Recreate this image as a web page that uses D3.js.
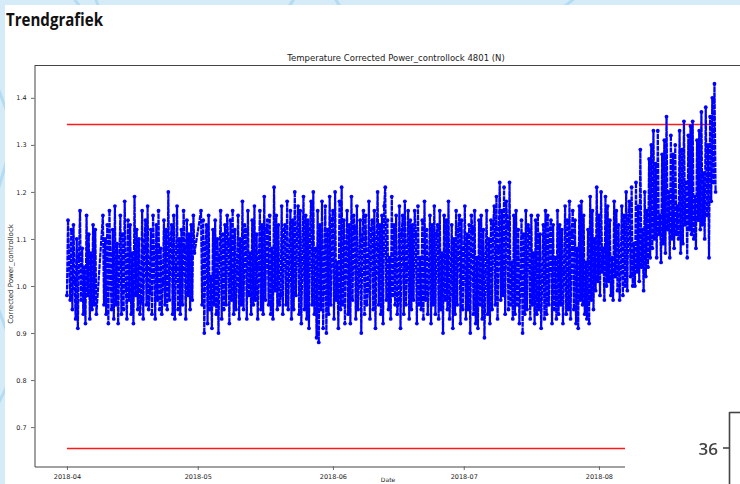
<!DOCTYPE html>
<html>
<head>
<meta charset="utf-8">
<script src="https://cdn.jsdelivr.net/npm/d3@7"></script>
<style>
  body { margin: 0; background: #fff; }
  svg { display: block; }
</style>
</head>
<body>
<svg id="chart" width="740" height="484"></svg>
<script>
// --- data ---
const pageTitle = "Trendgrafiek";
const chartTitle = "Temperature Corrected Power_controllock 4801 (N)";
const yLabel = "Corrected Power_controllock";
const xLabel = "Date";
const startDate = new Date(2018, 3, 1);   // first sample
const stepHours = 6;                       // one value every 6 hours
const limits = [0.655, 1.345];             // red control lines
const sideTickLabel = "36";                // axis of the next picture, bottom right

// null = no sample (gaps)
const values = [
  0.98,1.14,1.06,0.97, 1.12,0.95,1.13,1.01, 0.93,1.10,0.91,1.06, 1.16,0.97,1.08,0.94,
  1.04,0.92,1.15,0.98, 1.11,0.93,1.07,0.95, 1.13,0.96,1.12,0.94, null,null,null,null,
  null,1.15,0.96,1.10, 0.94,1.13,0.92,1.16, 1.02,0.95,1.12,0.93, 1.17,0.96,1.09,0.92,
  1.05,1.15,0.94,1.11, 0.95,1.18,1.00,0.93, 1.14,0.97,1.13,0.94, 1.07,0.92,1.19,0.98,
  1.12,0.95,1.10,0.94, 0.97,1.16,0.93,1.08, 1.14,0.96,1.17,0.95, 0.99,1.12,0.94,1.15,
  1.06,0.93,1.13,0.97, 1.16,0.95,1.08,0.94, 1.01,1.14,0.96,1.12, 0.95,1.20,0.97,1.09,
  1.13,0.94,1.15,0.93, 1.04,1.17,0.95,1.10, 0.94,1.12,0.96,1.16, 1.08,0.93,1.14,0.98,
  1.11,0.95,1.13,0.97, 1.15,1.07,null,null,
  null,null,null,1.16,
  0.96,1.14,0.90,1.08, 1.13,0.92,1.15,0.95, 1.02,0.91,1.12,0.96, 1.14,0.94,1.10,0.90,
  1.06,1.16,0.93,1.11, 0.95,1.13,0.96,1.15, 1.09,0.92,1.14,0.97, 1.16,0.94,1.12,0.95,
  1.03,1.15,0.93,1.10, 0.96,1.18,0.95,1.13, 1.12,0.93,1.16,0.98, 1.07,0.94,1.14,0.96,
  1.17,0.97,1.11,0.93, 1.04,1.16,0.95,1.13, 0.94,1.19,0.97,1.12, 1.14,0.96,1.15,0.94,
  1.08,0.93,1.21,0.99, 1.15,0.95,1.13,0.96, 0.98,1.17,0.94,1.12, 1.13,0.96,1.18,0.95,
  1.05,1.16,0.93,1.14, 0.95,1.20,0.98,1.11, 1.17,0.94,1.16,0.92, 1.06,1.19,0.95,1.15,
  0.93,1.14,0.91,1.12, 1.18,0.96,1.20,0.94, 1.08,0.89,1.16,0.88, 1.13,0.95,1.18,0.91,
  1.02,1.17,0.90,1.12, 0.94,1.19,0.96,1.14,
  1.16,0.93,1.20,0.97, 1.05,0.91,1.18,0.95, 1.21,0.96,1.14,0.92, 1.07,1.16,0.94,1.13,
  0.92,1.19,0.97,1.15, 1.12,0.93,1.17,0.95, 1.03,1.14,0.90,1.10, 1.16,0.94,1.15,0.96,
  0.99,1.18,0.93,1.12, 1.14,0.95,1.16,0.91, 1.08,1.20,0.96,1.13, 0.94,1.15,0.92,1.17,
  1.21,0.97,1.14,0.95, 1.06,0.93,1.19,0.98, 1.13,0.96,1.15,0.94, 0.97,1.17,0.91,1.11,
  1.15,0.94,1.18,0.96, 1.04,1.16,0.93,1.14, 0.95,1.13,0.97,1.16, 1.11,0.92,1.17,0.96,
  1.06,0.95,1.14,0.93, 1.18,0.97,1.12,0.94, 1.02,1.15,0.92,1.13, 0.96,1.17,0.94,1.11,
  1.13,0.93,1.16,0.95, 1.07,0.90,1.15,0.97, 1.14,0.95,1.18,0.93, 1.01,1.13,0.91,1.10,
  0.94,1.16,0.96,1.12, 1.15,0.92,1.14,0.95,
  1.04,1.17,0.93,1.11, 0.95,1.13,0.90,1.15, 1.12,0.94,1.16,0.92, 1.06,0.91,1.14,0.96,
  1.15,0.93,1.12,0.89, 1.03,1.16,0.94,1.10, 0.92,1.14,0.95,1.13, 1.17,0.96,1.19,0.93,
  1.08,1.22,0.97,1.16, 0.98,1.21,0.94,1.18, 1.13,0.95,1.22,0.96, 1.05,0.93,1.15,0.94,
  1.16,0.96,1.12,0.92, 1.02,1.14,0.90,1.11, 0.94,1.16,0.95,1.13, 1.12,0.93,1.15,0.96,
  1.07,0.92,1.14,0.94, 1.15,0.95,1.11,0.91, 1.01,1.13,0.93,1.16, 0.94,1.15,0.96,1.12,
  1.14,0.92,1.13,0.95, 1.06,0.93,1.16,0.94, 1.13,0.96,1.12,0.92, 1.03,1.17,0.94,1.14,
  0.95,1.18,0.93,1.11, 1.16,0.95,1.14,0.92, 1.08,0.91,1.17,0.97, 1.18,0.96,1.15,0.94,
  1.05,0.93,1.12,0.92, 1.19,0.97,1.16,0.95, 1.10,0.99,1.21,1.01,
  1.15,0.98,1.20,1.03, 1.08,0.97,1.19,1.00, 1.17,1.01,1.14,0.98, 1.06,0.97,1.18,1.02,
  1.16,0.99,1.13,0.97, 1.04,1.17,0.98,1.15, 1.00,1.20,0.99,1.14, 1.18,1.02,1.21,1.00,
  1.09,1.00,1.22,1.03, 1.17,1.01,1.29,1.04, 1.12,0.99,1.20,1.02, 1.16,1.04,1.27,1.06,
  1.30,1.08,1.33,1.10, 1.26,1.06,1.33,1.11, 1.15,1.05,1.28,1.09, 1.31,1.07,1.36,1.12,
  1.20,1.06,1.32,1.10, 1.28,1.08,1.30,1.11, 1.17,1.10,1.33,1.07, 1.29,1.09,1.35,1.13,
  1.22,1.06,1.32,1.12, 1.34,1.11,1.35,1.10, 1.19,1.08,1.31,1.14, 1.33,1.12,1.37,1.13,
  1.24,1.10,1.38,1.15, 1.30,1.06,1.36,1.18, 1.40,1.22,1.43,1.20
];

const svg = d3.select("#chart");
const W = 740, H = 484;
const plot = { left: 34.5, top: 65.5, bottom: 466.5, right: 748 };

const points = values
  .map((v, i) => ({ date: d3.timeHour.offset(startDate, i * stepHours), v }))
  .filter(d => d.v !== null);

// --- page background ---
svg.append("rect").attr("width", W).attr("height", H).attr("fill", "#fff");
const deco = svg.append("g");
deco.append("rect").attr("width", W).attr("height", 5).attr("fill", "#d6ebf8");
deco.append("rect").attr("width", 5).attr("height", H).attr("fill", "#d6ebf8");
svg.append("clipPath").attr("id", "stripClip")
  .selectAll("rect").data([[0, 0, W, 5], [0, 0, 5, H]]).join("rect")
  .attr("x", d => d[0]).attr("y", d => d[1]).attr("width", d => d[2]).attr("height", d => d[3]);
const stripes = deco.append("g").attr("clip-path", "url(#stripClip)")
  .attr("fill", "none").attr("stroke", "#b3dcf2").attr("stroke-width", 3);
[[60, -20, 90, 20], [100, 10, 92, -10], [280, 20, 300, -10], [330, -10, 345, 15],
 [560, 10, 585, -10], [-5, 80, 10, 120], [-5, 200, 10, 150], [-5, 300, 10, 340], [-5, 410, 10, 380]]
  .forEach(s => stripes.append("line").attr("x1", s[0]).attr("y1", s[1]).attr("x2", s[2]).attr("y2", s[3]));

svg.append("text")
  .attr("x", 6).attr("y", 26)
  .attr("font-family", "'Open Sans', sans-serif").attr("font-weight", 700)
  .attr("font-size", 18).attr("fill", "#111")
  .attr("textLength", 97).attr("lengthAdjust", "spacingAndGlyphs")
  .text(pageTitle);

// --- scales ---
const [t0, t1] = d3.extent(points, d => d.date);
const tPad = (t1 - t0) * 0.05;
const x = d3.scaleTime()
  .domain([new Date(+t0 - tPad), new Date(+t1 + tPad)])
  .range([plot.left, plot.right]);

const vMin = Math.min(d3.min(points, d => d.v), limits[0]);
const vMax = Math.max(d3.max(points, d => d.v), limits[1]);
const vPad = (vMax - vMin) * 0.05;
const y = d3.scaleLinear()
  .domain([vMin - vPad, vMax + vPad])
  .range([plot.bottom, plot.top]);

const font = "'DejaVu Sans', sans-serif";

// --- axes ---
const xAxis = svg.append("g")
  .attr("transform", `translate(0,${plot.bottom})`)
  .call(d3.axisBottom(x).tickValues(d3.timeMonth.range(t0, t1))
    .tickFormat(d3.timeFormat("%Y-%m")).tickSize(3.5).tickSizeOuter(0));
const yAxis = svg.append("g")
  .attr("transform", `translate(${plot.left},0)`)
  .call(d3.axisLeft(y).ticks(8).tickFormat(d3.format(".1f")).tickSize(3.5).tickSizeOuter(0));

[xAxis, yAxis].forEach(a => {
  a.select(".domain").attr("stroke", "#444").attr("stroke-width", 1);
  a.selectAll(".tick line").attr("stroke", "#444").attr("stroke-width", 0.8);
  a.selectAll(".tick text").attr("font-family", font).attr("font-size", 6.5).attr("fill", "#222");
});
xAxis.selectAll(".tick text").attr("dy", "0.95em");
yAxis.selectAll(".tick text").attr("dx", "-0.2em");

svg.append("line")
  .attr("x1", plot.left).attr("x2", W)
  .attr("y1", plot.top).attr("y2", plot.top)
  .attr("stroke", "#444").attr("stroke-width", 1);

svg.append("text")
  .attr("x", 396).attr("y", 61)
  .attr("text-anchor", "middle")
  .attr("font-family", font).attr("font-size", 8.5).attr("fill", "#222")
  .text(chartTitle);

svg.append("text")
  .attr("transform", `translate(13,${(plot.top + plot.bottom) / 2 + 8}) rotate(-90)`)
  .attr("text-anchor", "middle")
  .attr("font-family", font).attr("font-size", 7).attr("fill", "#222")
  .text(yLabel);

svg.append("text")
  .attr("x", 388).attr("y", 482)
  .attr("text-anchor", "middle")
  .attr("font-family", font).attr("font-size", 6).attr("fill", "#222")
  .text(xLabel);

// --- control limits ---
svg.append("g").selectAll("line").data(limits).join("line")
  .attr("x1", x(t0)).attr("x2", x(t1))
  .attr("y1", d => Math.round(y(d)) + 0.5).attr("y2", d => Math.round(y(d)) + 0.5)
  .attr("stroke", "#ff1a1a").attr("stroke-width", 1.4);

// --- series ---
const line = d3.line().x(d => x(d.date)).y(d => y(d.v));
svg.append("path")
  .datum(points)
  .attr("d", line)
  .attr("fill", "none")
  .attr("stroke", "#0000ff")
  .attr("stroke-width", 2.2)
  .attr("stroke-dasharray", "5,0.8");

svg.append("g").attr("fill", "#0000ff")
  .selectAll("circle").data(points).join("circle")
  .attr("cx", d => x(d.date))
  .attr("cy", d => y(d.v))
  .attr("r", 1.9);

// --- next picture peeking in, bottom right ---
const defs = svg.append("defs");
defs.append("filter").attr("id", "soft")
  .append("feGaussianBlur").attr("stdDeviation", 0.5);
const peek = svg.append("g");
peek.append("rect").attr("x", 625).attr("y", 410).attr("width", W - 625).attr("height", H - 410).attr("fill", "#fff");
const peekAxis = peek.append("g").attr("filter", "url(#soft)").attr("stroke", "#444").attr("stroke-width", 1.6);
peekAxis.append("line").attr("x1", 729.5).attr("x2", 729.5).attr("y1", 412).attr("y2", H);
peekAxis.append("line").attr("x1", 729.5).attr("x2", W).attr("y1", 412.5).attr("y2", 412.5);
peekAxis.append("line").attr("x1", 723).attr("x2", 729.5).attr("y1", 448).attr("y2", 448);
peek.append("text")
  .attr("x", 718).attr("y", 454.5)
  .attr("text-anchor", "end")
  .attr("filter", "url(#soft)")
  .attr("font-family", "'Open Sans', sans-serif").attr("font-weight", 600)
  .attr("font-size", 17).attr("fill", "#444")
  .text(sideTickLabel);
</script>
</body>
</html>
